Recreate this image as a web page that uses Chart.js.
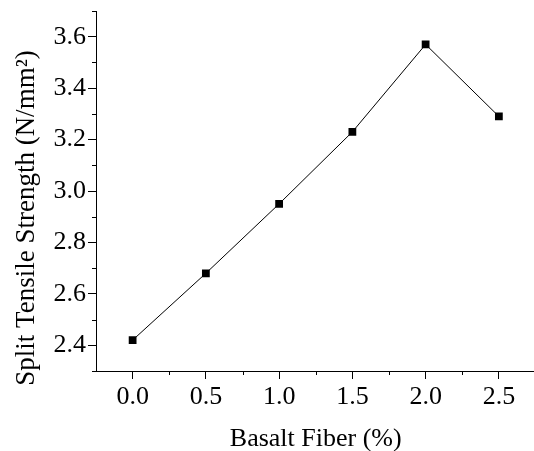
<!DOCTYPE html>
<html>
<head>
<meta charset="utf-8">
<script src="https://cdn.jsdelivr.net/npm/chart.js@4"></script>
<style>
  html, body { margin: 0; padding: 0; background: #fff; overflow: hidden; }
  #wrap { width: 541px; height: 451px; }
</style>
</head>
<body>
<div id="wrap"><canvas id="chart"></canvas></div>
<script>
const fiber = [0.0, 0.5, 1.0, 1.5, 2.0, 2.5];
const strength = [2.42, 2.68, 2.95, 3.23, 3.57, 3.29];

const xTicks = [0.0, 0.5, 1.0, 1.5, 2.0, 2.5];
const yTicks = [2.4, 2.6, 2.8, 3.0, 3.2, 3.4, 3.6];
const xMinor = [0.25, 0.75, 1.25, 1.75, 2.25];
const yMinor = [2.3, 2.5, 2.7, 2.9, 3.1, 3.3, 3.5, 3.7];

const FONT = "'Liberation Serif', 'Times New Roman', serif";

// small outward ticks between the labelled ones
const minorTicks = {
  id: "minorTicks",
  afterDraw(chart) {
    const ctx = chart.ctx;
    const xs = chart.scales.x;
    const ys = chart.scales.y;
    const area = chart.chartArea;
    ctx.save();
    ctx.strokeStyle = "#000";
    ctx.lineWidth = 1;
    ctx.beginPath();
    for (let v of xMinor) {
      const px = Math.round(xs.getPixelForValue(v)) + 0.5;
      ctx.moveTo(px, area.bottom);
      ctx.lineTo(px, area.bottom + 4);
    }
    for (let v of yMinor) {
      const py = Math.round(ys.getPixelForValue(v)) + 0.5;
      ctx.moveTo(area.left - 4, py);
      ctx.lineTo(area.left, py);
    }
    ctx.stroke();
    ctx.restore();
  },
};

new Chart(document.getElementById("chart"), {
  type: "line",
  data: {
    datasets: [
      {
        data: fiber.map((x, i) => ({ x: x, y: strength[i] })),
        borderColor: "#000",
        borderWidth: 1,
        backgroundColor: "#000",
        pointStyle: "rect",
        pointRadius: 5.5,
        pointBorderWidth: 0,
        pointBackgroundColor: "#000",
        tension: 0,
        fill: false,
      },
    ],
  },
  options: {
    responsive: true,
    maintainAspectRatio: false,
    animation: false,
    layout: { padding: { top: 11, right: 4, left: 0, bottom: 0 } },
    plugins: {
      legend: { display: false },
      tooltip: { enabled: false },
    },
    scales: {
      x: {
        type: "linear",
        min: -0.25,
        max: 2.75,
        afterBuildTicks: (scale) => {
          scale.ticks = xTicks.map((v) => ({ value: v }));
        },
        afterFit: (scale) => {
          scale.height = 80;
          scale.paddingLeft = 0;
          scale.paddingRight = 0;
        },
        border: { display: true, color: "#000", width: 1 },
        grid: { drawOnChartArea: false, drawTicks: true, tickLength: 8, color: "#000" },
        ticks: {
          color: "#000",
          padding: 3,
          maxRotation: 0,
          font: { family: FONT, size: 26 },
          callback: (v) => Number(v).toFixed(1),
        },
        title: {
          display: true,
          text: "Basalt Fiber (%)",
          color: "#000",
          padding: { top: 0, bottom: -1 },
          font: { family: FONT, size: 26, lineHeight: 1 },
        },
      },
      y: {
        type: "linear",
        min: 2.3,
        max: 3.7,
        afterBuildTicks: (scale) => {
          scale.ticks = yTicks.map((v) => ({ value: v }));
        },
        afterFit: (scale) => {
          scale.width = 96;
          scale.paddingTop = 0;
          scale.paddingBottom = 0;
        },
        border: { display: true, color: "#000", width: 1 },
        grid: { drawOnChartArea: false, drawTicks: true, tickLength: 8, color: "#000" },
        ticks: {
          color: "#000",
          padding: 2,
          font: { family: FONT, size: 26 },
          callback: (v) => Number(v).toFixed(1),
        },
        title: {
          display: true,
          text: "Split Tensile Strength (N/mm\u00B2)\u00A0\u00A0\u00A0\u00A0\u00A0\u00A0\u00A0\u00A0",
          color: "#000",
          padding: { top: 13, bottom: 0 },
          font: { family: FONT, size: 27, lineHeight: 1 },
        },
      },
    },
  },
  plugins: [minorTicks],
});
</script>
</body>
</html>
